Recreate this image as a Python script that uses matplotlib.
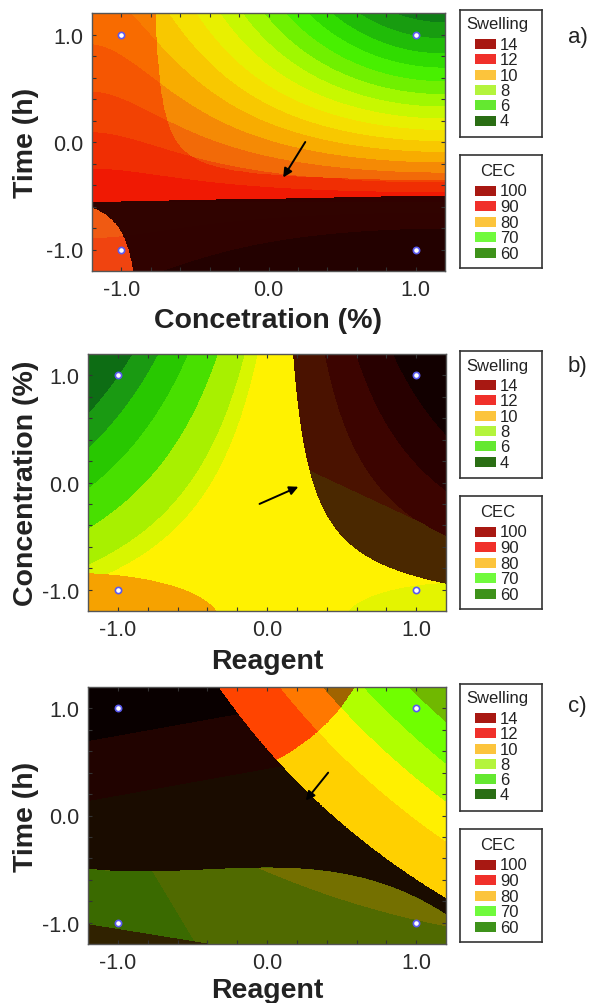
import numpy as np
import matplotlib
matplotlib.use('Agg')
import matplotlib.pyplot as plt
from matplotlib.patches import Rectangle
from matplotlib.colors import to_rgb
from numpy.polynomial.polynomial import polyval2d

plt.rcParams['font.family'] = ['Liberation Sans', 'DejaVu Sans']

W, H = 595, 1004

# ---------------- data ----------------
coded_ticks = [-1.0, 0.0, 1.0]
tick_labels = ['-1.0', '0.0', '1.0']
design_x = [-1, 1, -1, 1]
design_y = [1, 1, -1, -1]

swelling_values = [14, 12, 10, 8, 6, 4]
swelling_colors = ['#A81812', '#F0302A', '#FCC43C', '#B4F43C', '#64E830', '#2A6E14']
cec_values = [100, 90, 80, 70, 60]
cec_colors = ['#A81812', '#F0302A', '#FCC43C', '#70FA3C', '#3E921A']

panel_letters = ['a)', 'b)', 'c)']
x_titles = ['Concetration (%)', 'Reagent', 'Reagent']
y_titles = ['Time (h)', 'Concentration (%)', 'Time (h)']

# fitted response surfaces, c[i][j] * x**i * y**j (coded units)
swell_a_x = [5.8, 3.9, -0.05, -0.9]              # x-part of separable surface
swell_a_y = [0.6633, 1.1119, -0.171]             # y-part
cec_a_band = [[-0.25, -0.82], [-0.4, -1.0]]
cec_a_high = [[-0.53, -1.0], [0.025, 0.0]]

swell_b = [[6.3, 1.0], [-4.5, -2.5]]
cec_b_high = [[-0.356, -0.05], [1.12, 1.0], [0.065, 0.0]]
cec_b_high_top = [[0.856, 0.05], [-1.12, -1.0], [-0.065, 0.0]]
cec_b_mid = [[0.2915, -1.0], [-0.65, 0.0]]
cec_b_low_left = [[-9.106, -12.84, -4.938], [-2.707, 0, 0], [-1.041, 0, 0]]
cec_b_low_right = [[-14.818, -20.06, -7.716], [4.2736, 0, 0], [-1.6437, 0, 0]]

swell_c = [[-1.19, 1.94], [2.73, 0.62]]
cec_c_band = [[-1.49, 3.6, -1.0], [-1.8, 0, 0], [-1.0, 0, 0]]
cec_c_low = [[0.49, 1.0], [0.0, 0.0], [0.156, 0.0], [0.124, 0.0]]
cec_c_high = [[0.0, 1.0], [-0.25, 0.0]]
cec_c_low2 = [[0.521, 1.0], [0.583, 0], [-0.133, 0]]
cec_c_low3 = [[-0.998, -0.43], [-1.0, 0.0]]
cec_c_low4 = [[-1.29, -1.0], [-0.225, 0.0]]

# contour levels / fill colours
lev_a = [-100, -3, -1.2, 0, 1, 2, 3, 4, 5, 6, 7, 8, 9, 10, 11, 12, 13, 14, 15, 16, 100]
col_a = ['#B02008', '#F04410', '#F05A12', '#F02808', '#F04A08', '#F26A08', '#F58A05',
         '#F8AC00', '#F8C800', '#F5E000', '#E8F000', '#C8F800', '#A0F800', '#70F000',
         '#48F000', '#30DC00', '#20BC08', '#189C10', '#0F7E16', '#0C6420']
lev_b = [-100, 8.0, 8.65, 10.0, 11.5, 13.0, 14.3, 100]
col_b = ['#FFF200', '#D8F600', '#A8F000', '#48E000', '#28C800', '#1A9A12', '#0D6D14']
lev_b_dark = [0, 0.5, 1.0, 1.6, 100]
col_b_dark = ['#4A1200', '#3C0400', '#280000', '#120000']
lev_c = [-100, 0, 1.45, 2.45, 3.4, 4.45, 100]
col_c = ['#FF9A00', '#FFD000', '#FFF000', '#B0FF00', '#70FF00', '#70B800']
col_c_band = ['#FF3000', '#FF4400', '#FF7800', '#A06400', '#6A6A00', '#6A6A00']
lev_c_dark = [-100, 0.44, 1.0, 100]
col_c_dark = ['#1A0C00', '#210300', '#090000']

# arrows (tail, head) in coded units
arrows = [((0.25, 0.0), (0.10, -0.33)),
          ((-0.05, -0.20), (0.21, -0.04)),
          ((0.41, 0.40), (0.26, 0.14))]

swell_a = np.outer(swell_a_x, swell_a_y)


def tint(cols, f):
    return [tuple(np.clip(np.array(to_rgb(c)) * np.array(f), 0, 1)) for c in cols]


BIG = [0, 1000]
panels = [
    dict(rect=(92, 14, 445, 272), swell=swell_a, lev=lev_a, col=col_a,
         layers=[
             dict(f=swell_a, lev=lev_a, col=tint(col_a, (1.0, 0.62, 0.4)), clip=[(cec_a_band, 1)]),
             dict(f=swell_a, lev=lev_a, col=tint(col_a, (0.2, 0.03, 0.0)),
                  clip=[(cec_a_band, 1), (cec_a_high, 1)]),
         ]),
    dict(rect=(88, 355, 446, 612), swell=swell_b, lev=lev_b, col=col_b,
         layers=[
             dict(f=cec_b_low_left, lev=BIG, col=['#F6A200'], clip=[]),
             dict(f=cec_b_low_right, lev=BIG, col=['#E4F400'], clip=[]),
             dict(f=cec_b_high, lev=lev_b_dark, col=col_b_dark, clip=[]),
             dict(f=cec_b_mid, lev=BIG, col=['#4A2800'],
                  clip=[(cec_b_high, 1), (cec_b_high_top, 1)]),
         ]),
    dict(rect=(88, 688, 446, 945), swell=swell_c, lev=lev_c, col=col_c,
         layers=[
             dict(f=swell_c, lev=lev_c, col=col_c_band, clip=[(cec_c_band, 1)]),
             dict(f=cec_c_high, lev=lev_c_dark, col=col_c_dark,
                  clip=[(swell_c, -1), (cec_c_low, 1)]),
             dict(f=cec_c_low, lev=[-1000, 0], col=['#506A00'], clip=[]),
             dict(f=cec_c_low3, lev=BIG, col=['#3A6A00'], clip=[(cec_c_low, -1)]),
             dict(f=cec_c_low2, lev=BIG, col=['#747000'], clip=[(cec_c_low, -1)]),
             dict(f=cec_c_low4, lev=BIG, col=['#302200'], clip=[]),
         ]),
]

xlabel_base = [328, 669, 998]
letter_base = [43, 372, 712]

fig = plt.figure(figsize=(W / 100, H / 100), dpi=100)

g = np.linspace(-1.2, 1.2, 600)
X, Y = np.meshgrid(g, g)


def ev(c):
    return polyval2d(X, Y, np.asarray(c, dtype=float))


def fx(px):
    return px / W


def fy(py):
    return 1 - py / H


def legend_box(top, height, title, title_dy, first_dy, step, vals, cols):
    lx0, lx1 = 460, 542
    lax = fig.add_axes([fx(lx0), fy(top + height), (lx1 - lx0) / W, height / H])
    lax.set_xlim(lx0, lx1)
    lax.set_ylim(top + height, top)
    lax.set_xticks([])
    lax.set_yticks([])
    for sp in lax.spines.values():
        sp.set_color('#333333')
        sp.set_linewidth(1.2)
    lax.text(497.5, top + title_dy, title, ha='center', va='center', fontsize=12,
             color='#222222')
    for i, (v, c) in enumerate(zip(vals, cols)):
        cy = top + first_dy + step * i
        lax.add_patch(Rectangle((475, cy - 5), 21, 10, facecolor=c, edgecolor='none'))
        lax.text(500, cy + 0.5, str(v), ha='left', va='center', fontsize=12,
                 color='#222222')


for k, p in enumerate(panels):
    x0, y0, x1, y1 = p['rect']
    ax = fig.add_axes([fx(x0), fy(y1), (x1 - x0) / W, (y1 - y0) / H])
    ax.contourf(X, Y, ev(p['swell']), levels=p['lev'], colors=p['col'])
    for L in p['layers']:
        F = ev(L['f'])
        mask = np.zeros_like(F, dtype=bool)
        for c, s in L['clip']:
            mask |= (s * ev(c)) <= 0
        ax.contourf(X, Y, np.ma.array(F, mask=mask), levels=L['lev'], colors=L['col'])
    ax.plot(design_x, design_y, 'o', ms=4.5, mfc='white', mec='#5A5AF0', mew=1.2, zorder=5)
    (tx, ty), (hx, hy) = arrows[k]
    ax.annotate('', xy=(hx, hy), xytext=(tx, ty),
                arrowprops=dict(arrowstyle='-|>', color='black', lw=1.4, mutation_scale=13,
                                shrinkA=0, shrinkB=0), zorder=6)
    ax.set_xlim(-1.2, 1.2)
    ax.set_ylim(-1.2, 1.2)
    ax.set_xticks(coded_ticks)
    ax.set_xticklabels(tick_labels)
    ax.set_yticks(coded_ticks)
    ax.set_yticklabels(tick_labels)
    minor = [-1.2 + 0.2 * i for i in range(1, 12)]
    ax.set_xticks(minor, minor=True)
    ax.set_yticks(minor, minor=True)
    ax.tick_params(which='both', direction='in', top=True, right=True, length=3,
                   width=0.8, color='#333333')
    ax.tick_params(which='major', labelsize=15.5, labelcolor='#2A2A2A', pad=6)
    for sp in ax.spines.values():
        sp.set_color('#555555')
        sp.set_linewidth(1.0)
    fig.text(fx((x0 + x1) / 2), fy(xlabel_base[k]), x_titles[k], ha='center', va='baseline',
             fontsize=20.5, fontweight='bold', color='#222222')
    fig.text(fx(33), fy((y0 + y1) / 2), y_titles[k], ha='center', va='baseline',
             rotation=90, rotation_mode='anchor', fontsize=20.5, fontweight='bold',
             color='#222222')
    fig.text(fx(568), fy(letter_base[k]), panel_letters[k], ha='left', va='baseline',
             fontsize=16, color='#222222')

    legend_box(y0 - 3, 127, 'Swelling', 14, 34, 15.3, swelling_values, swelling_colors)
    legend_box(y0 + 142, 113, 'CEC', 15.5, 35.5, 15.6, cec_values, cec_colors)

fig.savefig('out.png', dpi=100)
